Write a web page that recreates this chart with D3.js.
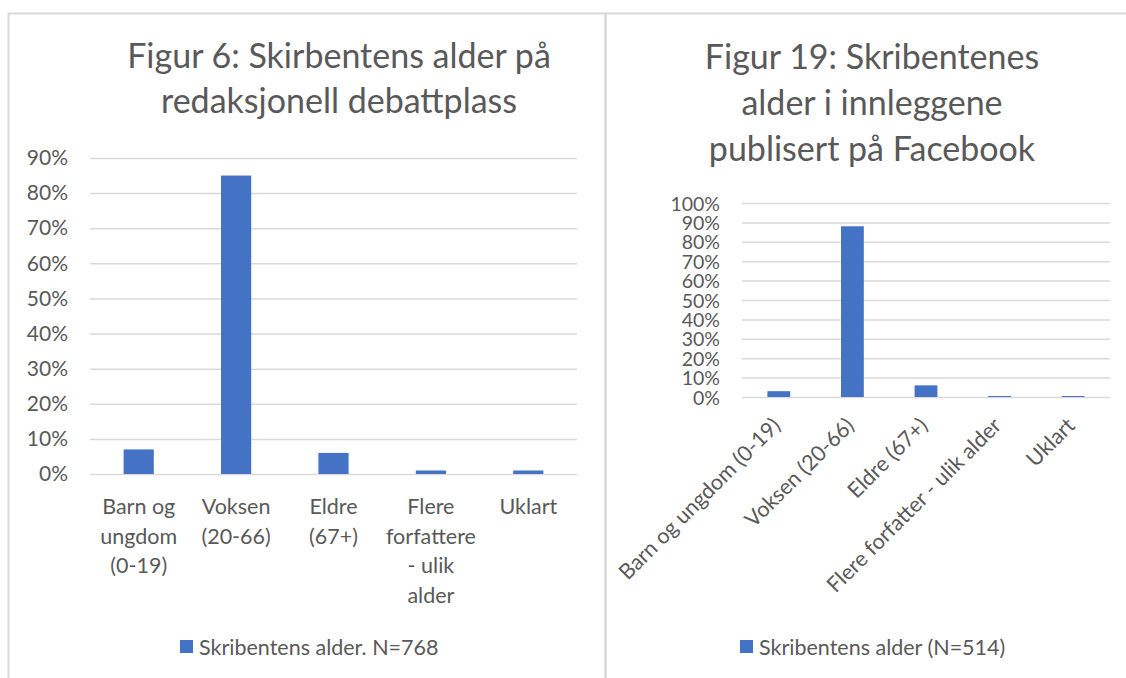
<!DOCTYPE html>
<html>
<head>
<meta charset="utf-8">
<script src="https://d3js.org/d3.v7.min.js"></script>
<style>
  body { margin:0; background:white; }
  text { font-family: Lato, "Open Sans", sans-serif; fill:#595959; }
  .title { font-size:34px; }
  .legend { font-size:21.5px; }
</style>
</head>
<body>
<script>
// left chart data
var leftCats = ["Barn og ungdom (0-19)", "Voksen (20-66)", "Eldre (67+)", "Flere forfattere - ulik alder", "Uklart"];
var leftLines = [["Barn og", "ungdom", "(0-19)"], ["Voksen", "(20-66)"], ["Eldre", "(67+)"], ["Flere", "forfattere", "- ulik", "alder"], ["Uklart"]];
var leftValues = [0.07, 0.85, 0.06, 0.01, 0.01];
var leftTicks = [0, 0.1, 0.2, 0.3, 0.4, 0.5, 0.6, 0.7, 0.8, 0.9];
var leftTitle = ["Figur 6: Skirbentens alder på", "redaksjonell debattplass"];
var leftLegend = "Skribentens alder. N=768";

// right chart data
var rightCats = ["Barn og ungdom (0-19)", "Voksen (20-66)", "Eldre (67+)", "Flere forfatter - ulik alder", "Uklart"];
var rightValues = [0.03, 0.88, 0.06, 0.005, 0.005];
var rightTicks = [0, 0.1, 0.2, 0.3, 0.4, 0.5, 0.6, 0.7, 0.8, 0.9, 1.0];
var rightTitle = ["Figur 19: Skribentenes", "alder i innleggene", "publisert på Facebook"];
var rightLegend = "Skribentens alder (N=514)";

var width = 1126, height = 678;
var blue = "#4472c4", grid = "#d9d9d9";
var pct = d3.format(".0%");

var svg = d3.select("body").append("svg").attr("width", width).attr("height", height);

// panel frames
svg.append("rect").attr("x", 8.5).attr("y", 13.5).attr("width", 597).attr("height", 700)
   .attr("fill", "none").attr("stroke", grid).attr("stroke-width", 2);
svg.append("rect").attr("x", 605.5).attr("y", 13.5).attr("width", 540).attr("height", 700)
   .attr("fill", "none").attr("stroke", grid).attr("stroke-width", 2);

// ---------- left chart ----------
var xl = d3.scaleBand().domain(leftCats).range([90, 577]).paddingInner(0.69).paddingOuter(0.345);
var yl = d3.scaleLinear().domain([0, 0.9]).range([474, 158]);

var gl = svg.append("g");
gl.selectAll("text.title").data(leftTitle).enter().append("text").classed("title", true)
  .attr("x", 339).attr("y", function(d, i){ return 68 + i * 45; })
  .attr("text-anchor", "middle").text(function(d){ return d; });

var yAxisL = gl.append("g").attr("transform", "translate(90,0)")
  .call(d3.axisLeft(yl).tickValues(leftTicks).tickFormat(pct).tickSize(-487).tickPadding(22));
yAxisL.select(".domain").remove();
yAxisL.selectAll(".tick line").attr("stroke", grid).attr("stroke-width", 1.5);
yAxisL.selectAll(".tick text").attr("fill", "#595959").style("font-family", "Lato").style("font-size", "21px");

gl.selectAll("rect.bar").data(leftValues).enter().append("rect")
  .attr("x", function(d, i){ return xl(leftCats[i]); })
  .attr("y", function(d){ return yl(d); })
  .attr("width", xl.bandwidth())
  .attr("height", function(d){ return yl(0) - yl(d); })
  .attr("fill", blue);

var xlab = gl.selectAll("text.xl").data(leftLines).enter().append("text")
  .attr("text-anchor", "middle").style("font-size", "21.5px")
  .attr("transform", function(d, i){ return "translate(" + (xl(leftCats[i]) + xl.bandwidth() / 2) + ",514)"; });
xlab.selectAll("tspan").data(function(d){ return d; }).enter().append("tspan")
  .attr("x", 0).attr("y", function(d, i){ return i * 29.5; }).text(function(d){ return d; });

gl.append("rect").attr("x", 180).attr("y", 640).attr("width", 13).attr("height", 13).attr("fill", blue);
gl.append("text").classed("legend", true).attr("x", 199).attr("y", 655).text(leftLegend);

// ---------- right chart ----------
var xr = d3.scaleBand().domain(rightCats).range([742, 1110]).paddingInner(0.69).paddingOuter(0.345);
var yr = d3.scaleLinear().domain([0, 1]).range([397, 203]);

var gr = svg.append("g");
gr.selectAll("text.title").data(rightTitle).enter().append("text").classed("title", true)
  .attr("x", 872).attr("y", function(d, i){ return 69 + i * 46; })
  .attr("text-anchor", "middle").text(function(d){ return d; });

var yAxisR = gr.append("g").attr("transform", "translate(742,0)")
  .call(d3.axisLeft(yr).tickValues(rightTicks).tickFormat(pct).tickSize(-368).tickPadding(22));
yAxisR.select(".domain").remove();
yAxisR.selectAll(".tick line").attr("stroke", grid).attr("stroke-width", 1.5);
yAxisR.selectAll(".tick text").attr("fill", "#595959").style("font-family", "Lato").style("font-size", "19.5px")
  .attr("dy", "0.36em");

gr.selectAll("rect.bar").data(rightValues).enter().append("rect")
  .attr("x", function(d, i){ return xr(rightCats[i]); })
  .attr("y", function(d){ return yr(d); })
  .attr("width", xr.bandwidth())
  .attr("height", function(d){ return yr(0) - yr(d); })
  .attr("fill", blue);

gr.selectAll("text.xr").data(rightCats).enter().append("text")
  .attr("text-anchor", "end").style("font-size", "21.5px")
  .attr("transform", function(d){ return "translate(" + (xr(d) + xr.bandwidth() / 2 + 3) + ",427) rotate(-45)"; })
  .text(function(d){ return d; });

gr.append("rect").attr("x", 740).attr("y", 640).attr("width", 13).attr("height", 13).attr("fill", blue);
gr.append("text").classed("legend", true).attr("x", 759).attr("y", 655).text(rightLegend);
</script>
</body>
</html>
